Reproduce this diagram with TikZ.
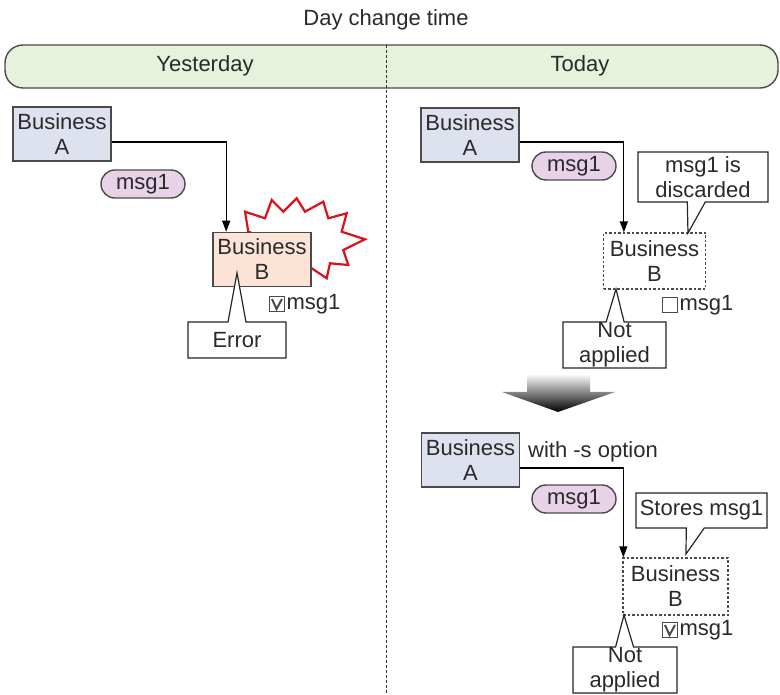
\documentclass[tikz,border=0pt]{standalone}
\usepackage{fontspec}
\setmainfont{Liberation Sans}
\usetikzlibrary{shapes.callouts,arrows.meta}
\definecolor{bandfill}{HTML}{E6F2DC}
\definecolor{bizfill}{HTML}{DEE2EE}
\definecolor{peach}{HTML}{FBE4D6}
\definecolor{pillfill}{HTML}{E8D2E8}
\definecolor{boxline}{HTML}{4A4A4A}
\definecolor{txtgray}{HTML}{2A2A2A}
\definecolor{burst}{HTML}{E0101A}
\begin{document}
\begin{tikzpicture}[x=1pt,y=-1pt,
  every node/.style={font=\fontsize{22}{25}\selectfont, text=txtgray},
  biz/.style={draw=boxline, line width=1.6pt, fill=bizfill, minimum width=98pt, minimum height=54pt, inner sep=0pt, align=center},
  bizb/.style={biz, fill=peach},
  bizdash/.style={draw=boxline, line width=1.3pt, dash pattern=on 2.5pt off 2pt, fill=white, minimum width=102pt, minimum height=56pt, inner sep=0pt, align=center},
  pill/.style={draw=boxline, line width=1.4pt, fill=pillfill, rounded corners=14pt, minimum width=84pt, minimum height=28pt, inner sep=0pt},
  conn/.style={draw=black, line width=1.2pt, -{Triangle[length=11pt,width=8pt]}},
  callbox/.style={rectangle callout, draw=black!85, line width=1.2pt, fill=white, inner sep=0pt, align=center, callout pointer width=18pt},
  cbox/.style={draw=boxline, line width=1.6pt, fill=white, minimum size=15pt, inner sep=0pt},
  checkm/.style={draw=boxline, line width=2pt},
  lbl/.style={inner sep=1pt, anchor=west}
]
\useasboundingbox (0,0) rectangle (780,695);

% header
\node (title) at (386,20) {Day change time};
\draw[draw=boxline, line width=1.4pt, fill=bandfill, rounded corners=18pt] (5,45) rectangle (778,88);
\draw[black!80, line width=1pt, dash pattern=on 3pt off 2pt] (386,45) -- (386,695);
\node (yest) at (205,66) {Yesterday};
\node (today) at (580,66) {Today};

% ---------- Yesterday ----------
\draw[burst, line width=2.2pt, fill=white, line join=miter]
  (300,250) -- (248.3,231.7) -- (245,211.7) -- (265,218.3) -- (271.7,200) -- (283.3,211.7)
  -- (296.7,198.3) -- (305,211.7) -- (323.3,201.7) -- (328.3,218.3) -- (346.7,213.3)
  -- (341.7,231.7) -- (365,239.3) -- (343.3,250) -- (348.3,265) -- (330,263.3)
  -- (326.7,278.3) -- (311.7,268.3) -- cycle;
\node[biz] (A1) at (62,134) {Business\\A};
\node[bizb] (B1) at (262,259.5) {Business\\B};
\node[pill] (m1) at (143,184) {msg1};
\draw[conn] ([yshift=-8pt]A1.east) -| ([xshift=14pt]B1.north west);
\node[cbox] (cb1) at (277,304) {};
\draw[checkm] (cb1.center) ++(-5,-5) -- ++(4.5,10) -- ++(5.5,-10);
\node[lbl] (t1) at (cb1.east) {msg1};
\node[callbox, minimum width=98pt, minimum height=36pt, callout absolute pointer={(237,273)}] (E1) at (237,340) {Error};

% ---------- Today (top) ----------
\node[biz] (A2) at (470,135) {Business\\A};
\node[bizdash] (B2) at (654.5,261) {Business\\B};
\node[pill] (m2) at (574,166) {msg1};
\draw[conn] ([yshift=-7pt]A2.east) -| ([xshift=21pt]B2.north west);
\node[callbox, minimum width=130pt, minimum height=50pt, callout absolute pointer={(688,233)}] (C2) at (703,177) {msg1 is\\discarded};
\node[cbox] (cb2) at (670,305) {};
\node[lbl] (t2) at (cb2.east) {msg1};
\node[callbox, minimum width=103pt, minimum height=46pt, callout absolute pointer={(616,289)}] (N2) at (614.5,345) {Not\\applied};

% big arrow
\shade[top color=black!3, bottom color=black]
  (527,375) -- (590,375) -- (590,392) -- (615,392) -- (558,412) -- (502,392) -- (527,392) -- cycle;

% ---------- Today (bottom) ----------
\node[biz] (A3) at (470.5,460) {Business\\A};
\node (opt) at (593,452) {with -s option};
\node[bizdash, minimum width=105pt, minimum height=57pt] (B3) at (675.5,586.5) {Business\\B};
\node[pill] (m3) at (574,499) {msg1};
\draw[conn] ([yshift=-8pt]A3.east) -| ([xshift=1pt]B3.north west);
\node[callbox, minimum width=131pt, minimum height=35pt, callout absolute pointer={(686,554)}] (C3) at (701.5,510.5) {Stores msg1};
\node[cbox] (cb3) at (670,630) {};
\draw[checkm] (cb3.center) ++(-5,-5) -- ++(4.5,10) -- ++(5.5,-10);
\node[lbl] (t3) at (cb3.east) {msg1};
\node[callbox, minimum width=104pt, minimum height=46pt, callout absolute pointer={(624,615)}] (N3) at (625,670) {Not\\applied};
\end{tikzpicture}
\end{document}
